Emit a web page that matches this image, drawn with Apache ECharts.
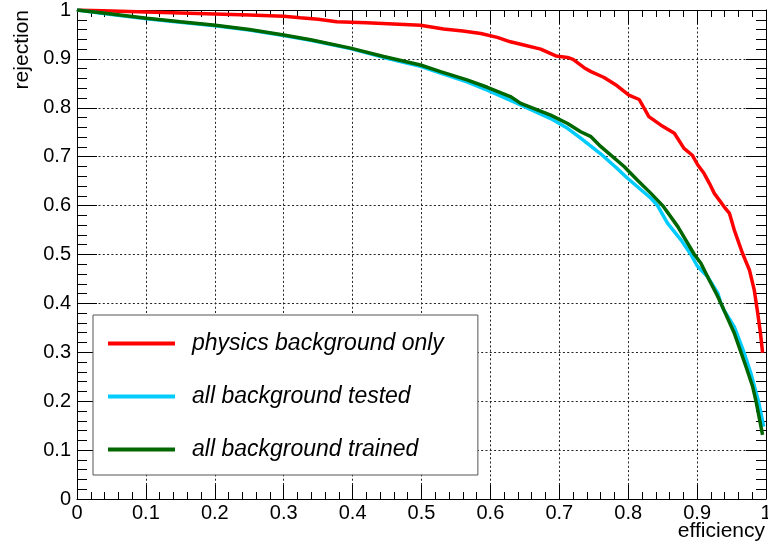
<!DOCTYPE html>
<html>
<head>
<meta charset="utf-8">
<script src="https://cdn.jsdelivr.net/npm/echarts@6/dist/echarts.min.js"></script>
<style>
html,body{margin:0;padding:0;background:#fff;overflow:hidden;}
#chart{width:768px;height:552px;}
</style>
</head>
<body>
<div id="chart"></div>
<script>
// ---- data ----
var seriesNames = ['physics background only', 'all background tested', 'all background trained'];
var tickLabels = ['0', '0.1', '0.2', '0.3', '0.4', '0.5', '0.6', '0.7', '0.8', '0.9', '1'];
var xTitle = 'efficiency';
var yTitle = 'rejection';

var physicsOnly = [
  [0,1],[0.05,0.998],[0.1,0.996],[0.15,0.994],[0.2,0.992],[0.25,0.99],[0.3,0.987],[0.324,0.984],
  [0.35,0.981],[0.377,0.976],[0.42,0.974],[0.4985,0.969],[0.532,0.961],[0.56,0.957],[0.586,0.952],
  [0.61,0.944],[0.629,0.935],[0.65,0.928],[0.673,0.92],[0.695,0.906],[0.712,0.903],[0.72,0.899],
  [0.736,0.882],[0.746,0.874],[0.765,0.862],[0.784,0.845],[0.801,0.826],[0.816,0.817],[0.83,0.782],
  [0.847,0.765],[0.867,0.748],[0.881,0.717],[0.893,0.703],[0.901,0.683],[0.91,0.666],[0.918,0.645],
  [0.925,0.625],[0.939,0.598],[0.947,0.584],[0.954,0.55],[0.966,0.502],[0.976,0.468],[0.983,0.427],
  [0.988,0.38],[0.992,0.339],[0.995,0.299]
];
var allTested = [
  [0,1],[0.05,0.991],[0.101,0.982],[0.15,0.975],[0.2006,0.968],[0.25,0.959],[0.3,0.948],[0.339,0.938],
  [0.397,0.921],[0.445,0.903],[0.4985,0.885],[0.5276,0.871],[0.566,0.853],[0.5955,0.836],[0.639,0.809],
  [0.6875,0.778],[0.712,0.758],[0.731,0.738],[0.76,0.706],[0.784,0.676],[0.799,0.656],[0.833,0.615],
  [0.8426,0.6],[0.857,0.564],[0.8765,0.53],[0.891,0.5],[0.9,0.477],[0.915,0.455],[0.93,0.421],
  [0.9346,0.4],[0.939,0.386],[0.954,0.352],[0.968,0.3],[0.978,0.257],[0.989,0.2],[0.9927,0.175],[0.9966,0.148]
];
var allTrained = [
  [0,1],[0.05,0.992],[0.101,0.983],[0.15,0.976],[0.2006,0.969],[0.25,0.96],[0.3,0.949],[0.339,0.939],
  [0.397,0.922],[0.445,0.905],[0.4985,0.8875],[0.5276,0.874],[0.566,0.857],[0.5955,0.842],[0.629,0.823],
  [0.644,0.809],[0.6875,0.785],[0.712,0.768],[0.731,0.751],[0.746,0.741],[0.76,0.721],[0.794,0.68],
  [0.8135,0.652],[0.833,0.625],[0.85,0.6],[0.872,0.557],[0.896,0.5],[0.9055,0.482],[0.9176,0.448],
  [0.93,0.414],[0.9346,0.4],[0.954,0.339],[0.9637,0.3],[0.971,0.2705],[0.9806,0.23],[0.9855,0.2],
  [0.9927,0.148],[0.995,0.131]
];
var seriesData = [physicsOnly, allTested, allTrained];
var seriesColors = ['#ff0000', '#00ccff', '#006600'];

// ---- chart ----
var FONT = '"Liberation Sans", Arial, Helvetica, sans-serif';
function fmt(v) { return tickLabels[Math.round(v * 10)]; }
var dotted = { color: '#222', width: 1, type: [2, 2.3] };
var black = { color: '#000', width: 1 };

function mkX(pos, labels) {
  return {
    type: 'value', min: 0, max: 1, interval: 0.1, position: pos, gridIndex: 0,
    axisLine: { show: true, onZero: false, lineStyle: black },
    axisTick: { show: true, inside: true, length: 14, lineStyle: black },
    minorTick: { show: true, splitNumber: 5, length: 7, lineStyle: black },
    splitLine: { show: labels, lineStyle: dotted },
    minorSplitLine: { show: false },
    axisLabel: { show: labels, formatter: fmt, fontSize: 20, color: '#000', fontFamily: FONT, margin: 4,
                 showMinLabel: true, showMaxLabel: true }
  };
}
function mkY(pos, labels) {
  return {
    type: 'value', min: 0, max: 1, interval: 0.1, position: pos, gridIndex: 0,
    axisLine: { show: true, onZero: false, lineStyle: black },
    axisTick: { show: true, inside: true, length: 20, lineStyle: black },
    minorTick: { show: true, splitNumber: 5, length: 10, lineStyle: black },
    splitLine: { show: labels, lineStyle: dotted },
    minorSplitLine: { show: false },
    axisLabel: { show: labels, formatter: fmt, fontSize: 20, color: '#000', fontFamily: FONT, margin: 6,
                 showMinLabel: true, showMaxLabel: true }
  };
}

var series = seriesNames.map(function (n, i) {
  return {
    name: n, type: 'line', data: seriesData[i], xAxisIndex: 0, yAxisIndex: 0,
    showSymbol: false, symbol: 'none', smooth: false,
    lineStyle: { color: seriesColors[i], width: 3.5 },
    itemStyle: { color: seriesColors[i] },
    z: 3 + i
  };
});

var chart = echarts.init(document.getElementById('chart'), null, { renderer: 'canvas' });
chart.setOption({
  animation: false,
  backgroundColor: '#fff',
  textStyle: { fontFamily: FONT },
  grid: { left: 77, right: 2, top: 10, bottom: 53, containLabel: false, outerBoundsMode: 'none' },
  xAxis: [mkX('bottom', true), mkX('top', false)],
  yAxis: [mkY('left', true), mkY('right', false)],
  legend: {
    show: true, orient: 'vertical', left: 93, top: 315,
    padding: [17, 34, 14, 15], itemGap: 30, itemWidth: 67, itemHeight: 4,
    icon: 'rect', backgroundColor: '#fff', borderColor: '#555', borderWidth: 1,
    selectedMode: false,
    data: seriesNames,
    textStyle: { fontSize: 23, fontStyle: 'italic', color: '#000', fontFamily: FONT, padding: [0, 0, 0, 12] }
  },
  graphic: [
    { type: 'text', x: 22, y: 10, rotation: Math.PI / 2,
      style: { text: yTitle, fill: '#000', font: '21px ' + FONT, align: 'right', verticalAlign: 'middle' } },
    { type: 'text', x: 765, y: 531,
      style: { text: xTitle, fill: '#000', font: '21px ' + FONT, align: 'right', verticalAlign: 'middle' } }
  ],
  series: series
});
</script>
</body>
</html>
